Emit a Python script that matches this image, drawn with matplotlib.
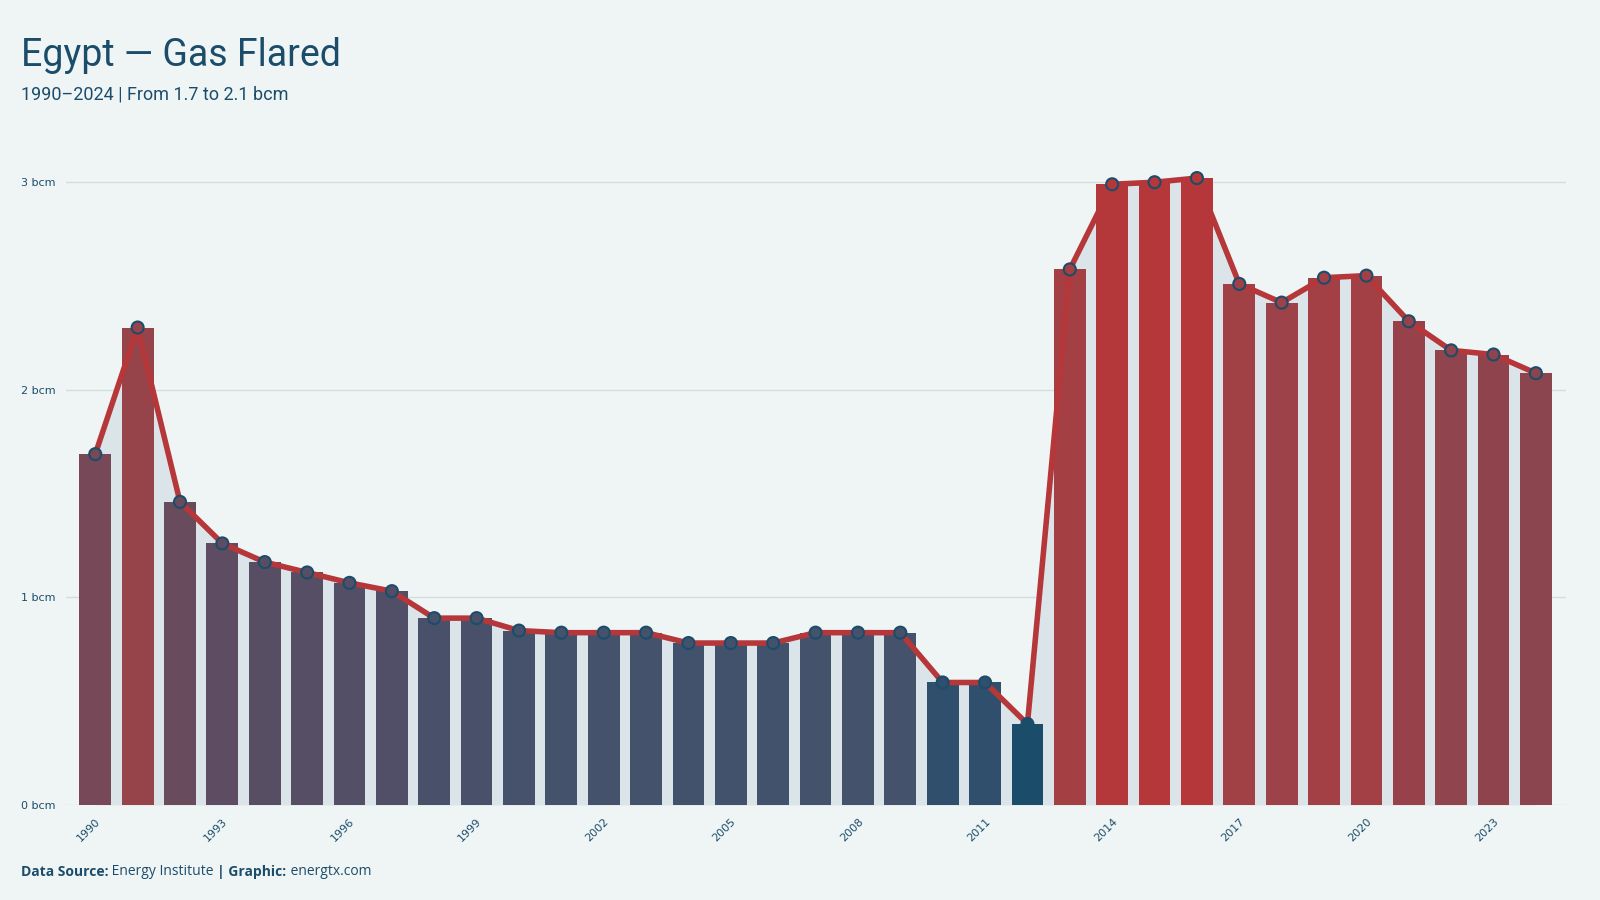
import matplotlib.pyplot as plt
import matplotlib.colors as mcolors
import numpy as np

years = list(range(1990, 2025))
flared_bcm = [1.69, 2.30, 1.46, 1.26, 1.17, 1.12, 1.07, 1.03, 0.90, 0.90,
              0.84, 0.83, 0.83, 0.83, 0.78, 0.78, 0.78, 0.83, 0.83, 0.83,
              0.59, 0.59, 0.39, 2.58, 2.99, 3.00, 3.02, 2.51, 2.42, 2.54,
              2.55, 2.33, 2.19, 2.17, 2.08]
tick_years = list(range(1990, 2025, 3))
y_ticks = [0, 1, 2, 3]

BG = "#eff5f5"
BLUE = "#1b4d6b"
RED = "#b5373a"
FILL = "#dbe5e9"
GRID = "#d3dcdf"

cmap = mcolors.LinearSegmentedColormap.from_list(
    "blue_red",
    [(0.0, BLUE), (0.15, "#43526d"), (0.5, "#774858"), (0.8, "#a04146"), (1.0, RED)])
norm = mcolors.Normalize(vmin=min(flared_bcm), vmax=max(flared_bcm))
bar_colors = [cmap(norm(v)) for v in flared_bcm]

fig = plt.figure(figsize=(16, 9), dpi=100, facecolor=BG)
ax = fig.add_axes([0.041, 0.1056, 0.938, 0.715])
ax.set_facecolor(BG)

ax.fill_between(years, flared_bcm, 0, color=FILL, zorder=1, linewidth=0)
ax.bar(years, flared_bcm, width=0.75, color=bar_colors, zorder=2)
ax.plot(years, flared_bcm, color=RED, linewidth=4, zorder=3)
ax.scatter(years, flared_bcm, s=75, c=bar_colors, edgecolors=BLUE,
           linewidths=1.5, zorder=4)

ax.set_xlim(1989.3, 2024.72)
ax.set_ylim(0, 3.1)
ax.set_yticks(y_ticks)
ax.set_yticklabels([f"{v} bcm" for v in y_ticks])
ax.set_xticks(tick_years)
ax.set_xticklabels([str(y) for y in tick_years], rotation=45, ha="right",
                   rotation_mode="anchor")
ax.tick_params(axis="both", length=0, labelsize=8, labelcolor=BLUE)
ax.tick_params(axis="y", pad=7)
ax.tick_params(axis="x", pad=8)
ax.grid(axis="y", color=GRID, linewidth=1, zorder=0)
ax.set_axisbelow(True)
for s in ax.spines.values():
    s.set_visible(False)

title_font = ["Roboto", "DejaVu Sans"]
fig.text(0.013, 0.927, "Egypt — Gas Flared", fontsize=27, color=BLUE,
         family=title_font, va="baseline")
fig.text(0.013, 0.89, "1990–2024 | From 1.7 to 2.1 bcm", fontsize=13,
         color=BLUE, family=title_font, va="baseline")

t1 = fig.text(0.013, 0.027, "Data Source:", fontsize=10, color=BLUE,
              fontweight="bold", family="Open Sans", va="baseline")
t2 = ax.annotate(" Energy Institute ", xy=(1, 0), xycoords=t1, fontsize=10,
                 color=BLUE, family="Open Sans", va="bottom", annotation_clip=False)
t3 = ax.annotate("| Graphic:", xy=(1, 0), xycoords=t2, fontsize=10,
                 color=BLUE, fontweight="bold", family="Open Sans", va="bottom",
                 annotation_clip=False)
ax.annotate(" energtx.com", xy=(1, 0), xycoords=t3, fontsize=10,
            color=BLUE, family="Open Sans", va="bottom", annotation_clip=False)

plt.savefig("out.png", dpi=100, facecolor=BG)
